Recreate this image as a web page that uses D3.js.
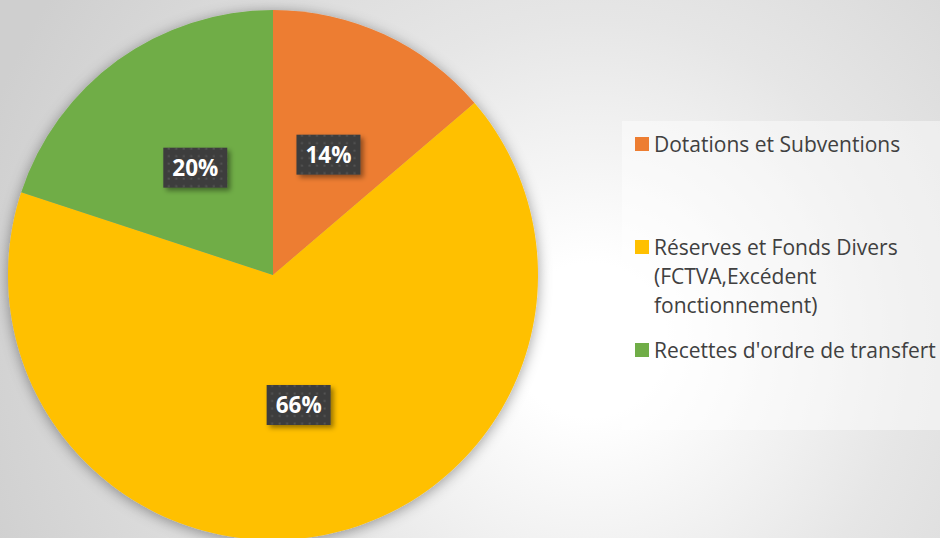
<!DOCTYPE html>
<html>
<head>
<meta charset="utf-8">
<script src="https://cdn.jsdelivr.net/npm/d3@7"></script>
<style>
  html, body { margin: 0; padding: 0; background: #fff; }
  svg { display: block; }
</style>
</head>
<body>
<svg id="chart" width="940" height="538"></svg>
<script>
// ---- data ----
const categories = [
  "Dotations et Subventions",
  "Réserves et Fonds Divers (FCTVA,Excédent fonctionnement)",
  "Recettes d'ordre de transfert"
];
const legendLines = [
  ["Dotations et Subventions"],
  ["Réserves et Fonds Divers", "(FCTVA,Excédent", "fonctionnement)"],
  ["Recettes d'ordre de transfert"]
];
const values = [13.75, 66.3, 19.95];
const colors = ["#ED7D31", "#FFC000", "#70AD47"];

// ---- drawing ----
const W = 940, H = 538;
const svg = d3.select("#chart");
const defs = svg.append("defs");

// background radial gradient
const bg = defs.append("radialGradient").attr("id", "bgGrad")
  .attr("gradientUnits", "userSpaceOnUse")
  .attr("cx", 590).attr("cy", 340).attr("r", 640);
bg.append("stop").attr("offset", "0").attr("stop-color", "#ffffff");
bg.append("stop").attr("offset", "0.12").attr("stop-color", "#ffffff");
bg.append("stop").attr("offset", "0.5").attr("stop-color", "#e6e6e6");
bg.append("stop").attr("offset", "0.85").attr("stop-color", "#d6d6d6");
bg.append("stop").attr("offset", "1").attr("stop-color", "#cfcfcf");
svg.append("rect").attr("width", W).attr("height", H).attr("fill", "url(#bgGrad)");

// shadows
const pieShadow = defs.append("filter").attr("id", "pieShadow")
  .attr("x", "-20%").attr("y", "-20%").attr("width", "140%").attr("height", "140%");
pieShadow.append("feDropShadow").attr("dx", 0).attr("dy", 2)
  .attr("stdDeviation", 7).attr("flood-color", "#000").attr("flood-opacity", 0.38);

const boxShadow = defs.append("filter").attr("id", "boxShadow")
  .attr("x", "-30%").attr("y", "-30%").attr("width", "160%").attr("height", "160%");
boxShadow.append("feDropShadow").attr("dx", 3).attr("dy", 3)
  .attr("stdDeviation", 2.5).attr("flood-color", "#000").attr("flood-opacity", 0.4);

// dot pattern for data label boxes
const pat = defs.append("pattern").attr("id", "dots")
  .attr("patternUnits", "userSpaceOnUse").attr("width", 7.5).attr("height", 7.5);
pat.append("rect").attr("width", 7.5).attr("height", 7.5).attr("fill", "#3d3d3d");
pat.append("rect").attr("x", 2.5).attr("y", 2.5).attr("width", 2).attr("height", 2).attr("fill", "#535353");

// legend box
svg.append("rect").attr("x", 622).attr("y", 121).attr("width", 330).attr("height", 309)
  .attr("fill", "#ffffff").attr("fill-opacity", 0.45);

// pie
const cx = 273, cy = 275, R = 265;
const total = d3.sum(values);
const pie = d3.pie().sort(null).value(d => d)(values);
const arc = d3.arc().innerRadius(0).outerRadius(R);
const labelArc = d3.arc().innerRadius(R / 2).outerRadius(R / 2);

const g = svg.append("g").attr("transform", `translate(${cx},${cy})`);
const pieG = g.append("g").attr("filter", "url(#pieShadow)");
pieG.selectAll("path").data(pie).join("path")
  .attr("d", arc)
  .attr("fill", (d, i) => colors[i]);

const fmt = d3.format(".0%");
const lab = g.selectAll("g.lab").data(pie).join("g").attr("class", "lab")
  .attr("transform", d => `translate(${labelArc.centroid(d)})`);
lab.each(function (d) {
  const sel = d3.select(this);
  const t = sel.append("text")
    .attr("text-anchor", "middle").attr("dy", "0.36em")
    .attr("font-family", "'Open Sans', sans-serif")
    .attr("font-weight", "bold").attr("font-size", 22.5)
    .attr("fill", "#ffffff")
    .text(fmt(d.data / total));
  const w = t.node().getComputedTextLength() + 18;
  sel.insert("rect", "text")
    .attr("x", -w / 2).attr("y", -20).attr("width", w).attr("height", 40)
    .attr("fill", "url(#dots)").attr("filter", "url(#boxShadow)");
});

// legend
const legendTop = 121, bandH = 103, lineH = 29;
const leg = svg.append("g");
legendLines.forEach((lines, i) => {
  const y0 = legendTop + i * bandH + 23;
  leg.append("rect").attr("x", 635).attr("y", y0 - 7).attr("width", 14).attr("height", 14)
    .attr("fill", colors[i]);
  lines.forEach((ln, j) => {
    leg.append("text").attr("x", 654).attr("y", y0 + j * lineH)
      .attr("dy", "0.36em")
      .attr("font-family", "'Open Sans', sans-serif")
      .attr("font-size", 21).attr("fill", "#404040")
      .text(ln);
  });
});
</script>
</body>
</html>
